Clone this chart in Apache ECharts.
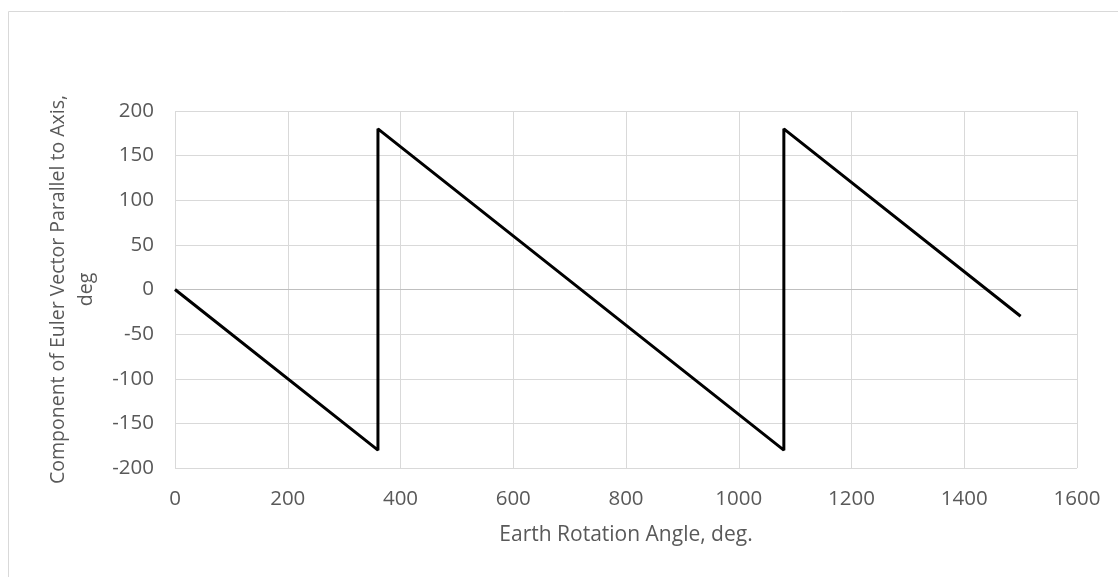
<!DOCTYPE html>
<html><head><meta charset="utf-8">
<script src="https://cdn.jsdelivr.net/npm/echarts@6/dist/echarts.min.js"></script>
<style>html,body{margin:0;padding:0;background:#fff}#c{width:1118px;height:577px}</style>
</head><body><div id="c"></div>
<script>
const xValues = [0, 360, 360, 1080, 1080, 1500];
const yValues = [0, -180, 180, -180, 180, -30];
const xTitle = 'Earth Rotation Angle, deg.';
const yTitle = 'Component of Euler Vector Parallel to Axis,\ndeg';
const data = xValues.map((x, i) => [x, yValues[i]]);
const chart = echarts.init(document.getElementById('c'));
const font = '"Open Sans", "Liberation Sans", sans-serif';
const fs = 20.5;
chart.setOption({
  animation: false,
  graphic: [{type: 'rect', shape: {x: 8.5, y: 11.5, width: 1200, height: 700}, style: {fill: 'none', stroke: '#d9d9d9', lineWidth: 1}}],
  grid: {left: 175, right: 41, top: 111, bottom: 109},
  xAxis: {
    type: 'value', min: 0, max: 1600, interval: 200,
    name: xTitle, nameLocation: 'middle', nameGap: 57,
    nameTextStyle: {color: '#595959', fontSize: 21, fontFamily: font},
    axisLine: {show: true, lineStyle: {color: '#bfbfbf', width: 1}}, axisTick: {show: false},
    axisLabel: {color: '#595959', fontSize: fs, fontFamily: font, margin: 21, formatter: v => String(v)},
    splitLine: {show: true, lineStyle: {color: '#d9d9d9', width: 1}}
  },
  yAxis: {
    type: 'value', min: -200, max: 200, interval: 50,
    name: yTitle, nameLocation: 'middle', nameGap: 75,
    nameTextStyle: {color: '#595959', fontSize: 19.5, fontFamily: font, lineHeight: 28, align: 'center'},
    axisLine: {show: false}, axisTick: {show: false},
    axisLabel: {color: '#595959', fontSize: fs, fontFamily: font, margin: 21, formatter: v => String(v)},
    splitLine: {show: true, lineStyle: {color: '#d9d9d9', width: 1}}
  },
  series: [{
    type: 'line', data: data, symbol: 'none',
    lineStyle: {color: '#000', width: 3}
  }]
});
</script></body></html>
